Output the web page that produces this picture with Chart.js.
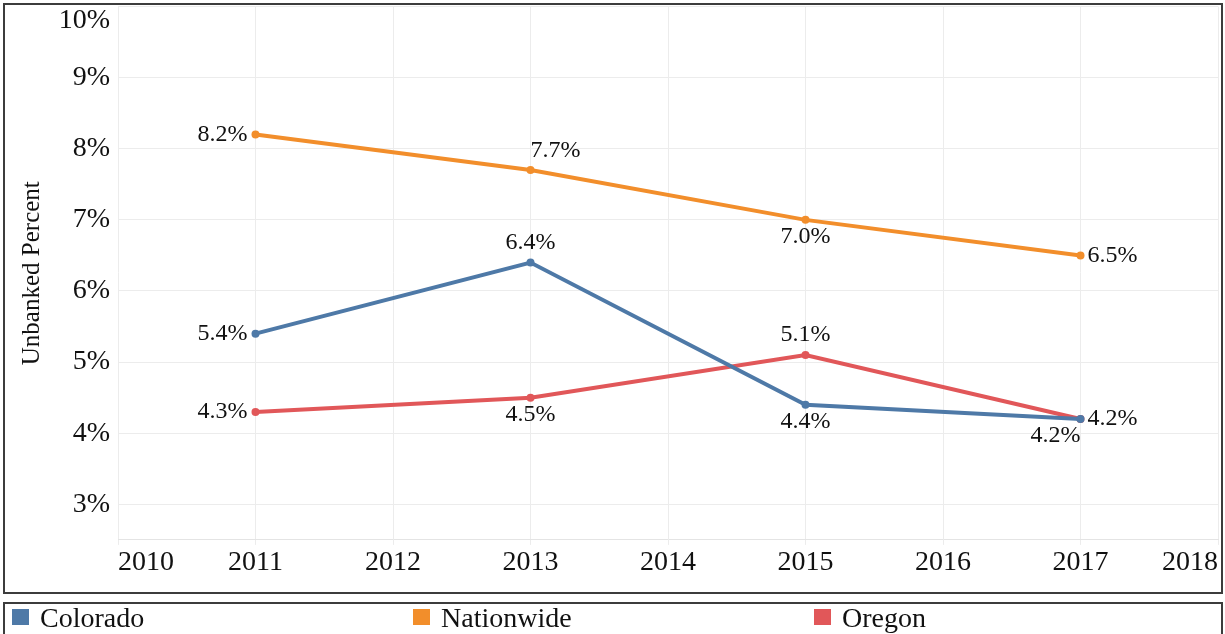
<!DOCTYPE html>
<html>
<head>
<meta charset="utf-8">
<script src="https://cdn.jsdelivr.net/npm/chart.js@4"></script>
<style>
  html, body { margin:0; padding:0; background:#fff; width:1225px; height:634px; overflow:hidden; }
  #chartBox { position:absolute; left:0; top:0; width:1225px; height:590px; }
  #frame { position:absolute; left:3px; top:3px; width:1216px; height:587px; border:2px solid #3c3c3c; pointer-events:none; }
  #legendBox { position:absolute; left:3px; top:602px; width:1216px; height:50px; border:2px solid #3c3c3c; }
  .lg-sq { position:absolute; width:17px; height:16px; }
  .lg-tx { position:absolute; font-family:"Liberation Serif", "Times New Roman", serif; font-size:28px; line-height:28px; color:#111; white-space:nowrap; }
</style>
</head>
<body>
<div id="chartBox"><canvas id="c" width="1225" height="590"></canvas></div>
<div id="frame"></div>
<div id="legendBox"></div>
<div id="legend"></div>
<script>
// ---- data ----
const years = [2011, 2013, 2015, 2017];
const seriesNames = ['Colorado', 'Nationwide', 'Oregon'];
const coloradoValues = [5.4, 6.4, 4.4, 4.2];
const nationwideValues = [8.2, 7.7, 7.0, 6.5];
const oregonValues = [4.3, 4.5, 5.1, 4.2];
const xTicks = [2010, 2011, 2012, 2013, 2014, 2015, 2016, 2017, 2018];
const xTickLabels = ['2010', '2011', '2012', '2013', '2014', '2015', '2016', '2017', '2018'];
const yTicks = [3, 4, 5, 6, 7, 8, 9, 10];
const yTickLabels = ['3%', '4%', '5%', '6%', '7%', '8%', '9%', '10%'];

// ---- styles / placement (kept separate from data) ----
const seriesColors = ['#4e79a7', '#f28e2b', '#e15759'];
const labelPlacement = [
  ['left', 'above', 'below', 'right'],
  ['left', 'aboveRight', 'below', 'right'],
  ['left', 'below', 'above', 'belowLeft']
];
const legendPos = [12, 413, 814];

const allValues = [coloradoValues, nationwideValues, oregonValues];
const FONT = '"Liberation Serif", "Times New Roman", serif';
const TEXT = '#111';

const datasets = seriesNames.map((name, si) => ({
  label: name,
  data: years.map((yr, i) => ({ x: yr, y: allValues[si][i] })),
  borderColor: seriesColors[si],
  backgroundColor: seriesColors[si],
  borderWidth: 4,
  pointRadius: 4,
  pointBorderWidth: 0,
  pointBackgroundColor: seriesColors[si],
  tension: 0,
  clip: false
}));

const valueLabels = {
  id: 'valueLabels',
  afterDatasetsDraw(chart) {
    const ctx = chart.ctx;
    ctx.save();
    ctx.font = '24px ' + FONT;
    ctx.fillStyle = TEXT;
    chart.data.datasets.forEach((ds, di) => {
      const meta = chart.getDatasetMeta(di);
      meta.data.forEach((pt, i) => {
        const pos = labelPlacement[di][i];
        const txt = ds.data[i].y.toFixed(1) + '%';
        let x = pt.x, y = pt.y, align = 'center';
        switch (pos) {
          case 'left': x -= 8; align = 'right'; break;
          case 'right': x += 7; align = 'left'; break;
          case 'above': y -= 20; break;
          case 'below': y += 17; break;
          case 'aboveRight': y -= 19; align = 'left'; break;
          case 'belowLeft': y += 17; align = 'right'; break;
        }
        ctx.textAlign = align;
        ctx.textBaseline = 'middle';
        ctx.fillText(txt, x, y);
      });
    });
    ctx.restore();
  }
};

const yLabels = {
  id: 'yLabels',
  afterDraw(chart) {
    const ctx = chart.ctx;
    const s = chart.scales.y;
    const area = chart.chartArea;
    ctx.save();
    ctx.font = '28px ' + FONT;
    ctx.fillStyle = TEXT;
    ctx.textAlign = 'right';
    ctx.textBaseline = 'middle';
    yTicks.forEach((v, i) => {
      let py = s.getPixelForValue(v);
      py = Math.max(py, area.top + 14);
      ctx.fillText(yTickLabels[i], area.left - 8, py);
    });
    ctx.restore();
  }
};

new Chart(document.getElementById('c'), {
  type: 'line',
  data: { datasets },
  options: {
    responsive: false,
    animation: false,
    devicePixelRatio: 1,
    layout: { padding: { left: 17, top: 6.5, right: 7, bottom: 9.5 } },
    plugins: { legend: { display: false }, tooltip: { enabled: false } },
    scales: {
      x: {
        type: 'linear',
        min: 2010, max: 2018,
        afterBuildTicks: (s) => { s.ticks = xTicks.map(v => ({ value: v })); },
        ticks: {
          align: 'inner',
          autoSkip: false,
          maxRotation: 0,
          padding: 1,
          color: TEXT,
          font: { family: FONT, size: 28 },
          callback: (v) => xTickLabels[xTicks.indexOf(v)]
        },
        grid: { color: '#ececec', lineWidth: 1, tickLength: 5, drawTicks: true },
        border: { display: true, color: '#e4e4e4' }
      },
      y: {
        min: 2.5, max: 10,
        afterBuildTicks: (s) => { s.ticks = yTicks.map(v => ({ value: v })); },
        ticks: { display: false },
        grid: { color: '#ececec', lineWidth: 1, drawTicks: false },
        border: { display: false },
        title: {
          display: true,
          text: 'Unbanked Percent',
          color: TEXT,
          font: { family: FONT, size: 25 },
          padding: { top: 0, bottom: 71 }
        }
      }
    }
  },
  plugins: [valueLabels, yLabels]
});

// HTML legend built from the series arrays
const lg = document.getElementById('legend');
seriesNames.forEach((name, i) => {
  const sq = document.createElement('div');
  sq.className = 'lg-sq';
  sq.style.left = legendPos[i] + 'px';
  sq.style.top = '609px';
  sq.style.background = seriesColors[i];
  lg.appendChild(sq);
  const tx = document.createElement('div');
  tx.className = 'lg-tx';
  tx.style.left = (legendPos[i] + 28) + 'px';
  tx.style.top = '603.6px';
  tx.textContent = name;
  lg.appendChild(tx);
});
</script>
</body>
</html>
